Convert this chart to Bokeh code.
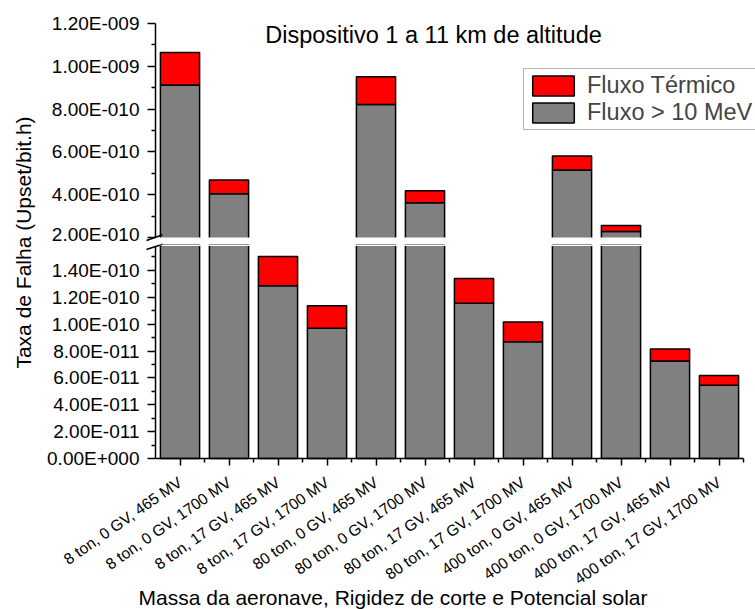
from math import radians, pi

from bokeh.plotting import figure
from bokeh.layouts import row, column
from bokeh.models import (ColumnDataSource, Range1d, FixedTicker, CustomJSTickFormatter,
                          Legend, LegendItem, Label, Arrow, LinearAxis, BoxAnnotation)
from bokeh.embed import file_html
from bokeh.resources import INLINE

# Failure rate per configuration (aircraft mass, cut-off rigidity, solar potential)
CATEGORIES = [
    "8 ton, 0 GV, 465 MV", "8 ton, 0 GV, 1700 MV",
    "8 ton, 17 GV, 465 MV", "8 ton, 17 GV, 1700 MV",
    "80 ton, 0 GV, 465 MV", "80 ton, 0 GV, 1700 MV",
    "80 ton, 17 GV, 465 MV", "80 ton, 17 GV, 1700 MV",
    "400 ton, 0 GV, 465 MV", "400 ton, 0 GV, 1700 MV",
    "400 ton, 17 GV, 465 MV", "400 ton, 17 GV, 1700 MV",
]
FAST = [9.13e-10, 4.04e-10, 1.286e-10, 9.69e-11, 8.21e-10, 3.62e-10,
        1.156e-10, 8.69e-11, 5.16e-10, 2.28e-10, 7.25e-11, 5.46e-11]
THERMAL = [1.51e-10, 6.5e-11, 2.18e-11, 1.67e-11, 1.30e-10, 5.7e-11,
           1.84e-11, 1.47e-11, 6.5e-11, 2.8e-11, 9.0e-12, 7.2e-12]

Y_UPPER_TICKS = [2e-10, 4e-10, 6e-10, 8e-10, 1.0e-9, 1.2e-9]
Y_UPPER_LABELS = ["2.00E-010", "4.00E-010", "6.00E-010", "8.00E-010", "1.00E-009", "1.20E-009"]
Y_UPPER_MINOR = [3e-10, 5e-10, 7e-10, 9e-10, 1.1e-9]
Y_LOWER_TICKS = [0.0, 2e-11, 4e-11, 6e-11, 8e-11, 1.0e-10, 1.2e-10, 1.4e-10]
Y_LOWER_LABELS = ["0.00E+000", "2.00E-011", "4.00E-011", "6.00E-011", "8.00E-011",
                  "1.00E-010", "1.20E-010", "1.40E-010"]
Y_LOWER_MINOR = [1e-11, 3e-11, 5e-11, 7e-11, 9e-11, 1.1e-10, 1.3e-10, 1.5e-10]

# broken-axis segments
UPPER_SEG = (2e-10, 1.2e-9)
LOWER_SEG = (0.0, 1.6e-10)

FONT = "Liberation Sans"
GRAY = "#808080"
RED = "#FF0000"

# page geometry (pixels from the top-left corner)
PAGE_W, PAGE_H = 755, 609
STRIP_W = 45          # column holding the value-axis title
AXIS_X = 155          # value axis line
TOP_Y = 23            # top of the upper segment
BREAK_HI = 237        # bottom of the upper segment
BREAK_LO = 243        # top of the lower segment scale
LOW_START = 245.5     # where the lower segment is drawn from
SEAM = 244            # seam between the two panels
ZERO_Y = 458          # baseline of the lower segment
SLOT = 49.0           # pixels per category

up_px = (BREAK_HI - TOP_Y) / (UPPER_SEG[1] - UPPER_SEG[0])
lo_px = (ZERO_Y - BREAK_LO) / (LOWER_SEG[1] - LOWER_SEG[0])


def upper_at(py):
    return UPPER_SEG[0] + (BREAK_HI - py) / up_px


def lower_at(py):
    return LOWER_SEG[0] + (ZERO_Y - py) / lo_px


def cat_at(px):
    return 0.5 + (px - AXIS_X) / SLOT


source = ColumnDataSource(dict(
    x=list(range(1, len(CATEGORIES) + 1)),
    fast=FAST,
    thermal=THERMAL,
))

NEAREST_JS = """
let best = 0;
for (let i = 1; i < vals.length; i++) {
    if (Math.abs(vals[i] - tick) < Math.abs(vals[best] - tick)) best = i;
}
return labels[best];
"""

# break marks: two slanted strokes crossing the value axis
MARKS = [((146, 240.0), (162, 234.3)), ((146, 249.0), (162, 243.7))]

panel_w = PAGE_W - STRIP_W


def make_panel(y_range, height):
    p = figure(width=panel_w, height=height,
               x_range=Range1d(cat_at(STRIP_W), cat_at(PAGE_W)), y_range=y_range,
               output_backend="svg", toolbar_location=None,
               x_axis_location=None, y_axis_location=None, min_border=0)
    p.outline_line_color = None
    p.grid.visible = False
    p.background_fill_color = "white"
    p.border_fill_color = "white"
    renderers = p.vbar_stack(["fast", "thermal"], x="x", width=0.8, source=source,
                             fill_color=[GRAY, RED], line_color="black", line_width=1.5)
    return p, renderers


def style_axis(ax, size):
    ax.axis_line_width = 1.5
    ax.major_tick_line_width = 1.5
    ax.minor_tick_line_width = 1.5
    ax.major_tick_in = 0
    ax.minor_tick_in = 0
    ax.major_label_text_font = FONT
    ax.major_label_text_font_size = size
    ax.major_label_text_color = "black"


def value_axis(p, seg, ticks, labels, minor):
    ax = LinearAxis(fixed_location=0.5, bounds=seg)
    ax.ticker = FixedTicker(ticks=ticks, minor_ticks=minor)
    ax.formatter = CustomJSTickFormatter(args=dict(vals=ticks, labels=labels), code=NEAREST_JS)
    style_axis(ax, "19px")
    ax.major_tick_out = 8
    ax.minor_tick_out = 4
    ax.major_label_standoff = 8
    p.add_layout(ax, "left")


def add_marks(p, top_px, height):
    # screen units are measured from the panel's bottom-left corner
    for (x0, y0), (x1, y1) in MARKS:
        p.add_layout(Arrow(x_start=x0 - STRIP_W, y_start=top_px + height - y0,
                           x_end=x1 - STRIP_W, y_end=top_px + height - y1,
                           start_units="screen", end_units="screen",
                           end=None, line_color="black", line_width=1.5))


# ---- upper segment -------------------------------------------------------
upper, (r_fast, r_thermal) = make_panel(Range1d(upper_at(SEAM), upper_at(0)), SEAM)
value_axis(upper, UPPER_SEG, Y_UPPER_TICKS, Y_UPPER_LABELS, Y_UPPER_MINOR)
upper.add_layout(BoxAnnotation(left=cat_at(AXIS_X + 1), right=cat_at(PAGE_W + 5),
                               bottom=upper_at(SEAM + 5), top=UPPER_SEG[0],
                               fill_color="white", fill_alpha=1.0, line_color=None))
upper.add_layout(Label(x=433 - STRIP_W, y=SEAM - 34, x_units="screen", y_units="screen",
                       text="Dispositivo 1 a 11 km de altitude",
                       text_align="center", text_baseline="middle",
                       text_font=FONT, text_font_size="23.5px", text_color="black"))
legend = Legend(items=[LegendItem(label="Fluxo Térmico", renderers=[r_thermal]),
                       LegendItem(label="Fluxo > 10 MeV", renderers=[r_fast])],
                location=(523 - STRIP_W, SEAM - 129.5), orientation="vertical",
                glyph_width=52, glyph_height=25, spacing=0, padding=3,
                label_standoff=8, label_width=180, margin=0,
                label_text_font=FONT, label_text_font_size="23.5px",
                border_line_color="#666666", border_line_width=1,
                background_fill_color="white", background_fill_alpha=1.0)
upper.add_layout(legend)
add_marks(upper, 0, SEAM)

# ---- lower segment -------------------------------------------------------
lower_h = PAGE_H - SEAM
lower, _ = make_panel(Range1d(lower_at(PAGE_H), lower_at(SEAM)), lower_h)
value_axis(lower, (LOWER_SEG[0], lower_at(LOW_START)), Y_LOWER_TICKS, Y_LOWER_LABELS,
           Y_LOWER_MINOR)
lower.add_layout(BoxAnnotation(left=cat_at(AXIS_X + 1), right=cat_at(PAGE_W + 5),
                               bottom=lower_at(LOW_START), top=lower_at(SEAM - 5),
                               fill_color="white", fill_alpha=1.0, line_color=None))
add_marks(lower, SEAM, lower_h)

xa = LinearAxis(fixed_location=LOWER_SEG[0], bounds=(0.5, 12.5))
xa.ticker = FixedTicker(ticks=list(range(1, 13)),
                        minor_ticks=[i + 0.5 for i in range(1, 13)])
xa.formatter = CustomJSTickFormatter(args=dict(labels=CATEGORIES),
                                     code="return labels[Math.round(tick) - 1];")
style_axis(xa, "15.6px")
xa.major_label_orientation = radians(35)
xa.major_label_standoff = 15
xa.major_tick_out = 7
xa.minor_tick_out = 4
lower.add_layout(xa, "below")

lower.add_layout(Label(x=392.5 - STRIP_W, y=PAGE_H - 597, x_units="screen", y_units="screen",
                       text="Massa da aeronave, Rigidez de corte e Potencial solar",
                       text_align="center", text_baseline="middle",
                       text_font=FONT, text_font_size="21px", text_color="black"))

# ---- value-axis title column ---------------------------------------------
strip = figure(width=STRIP_W, height=PAGE_H,
               x_range=Range1d(0, 1), y_range=Range1d(0, 1),
               output_backend="svg", toolbar_location=None,
               x_axis_location=None, y_axis_location=None, min_border=0)
strip.outline_line_color = None
strip.grid.visible = False
strip.add_layout(Label(x=22.5, y=PAGE_H - 242, x_units="screen", y_units="screen",
                       text="Taxa de Falha (Upset/bit.h)", angle=pi / 2,
                       text_align="center", text_baseline="middle",
                       text_font=FONT, text_font_size="21px", text_color="black"))

layout = row(strip, column(upper, lower, spacing=0), spacing=0)

open("out.html", "w").write(file_html(layout, INLINE))
